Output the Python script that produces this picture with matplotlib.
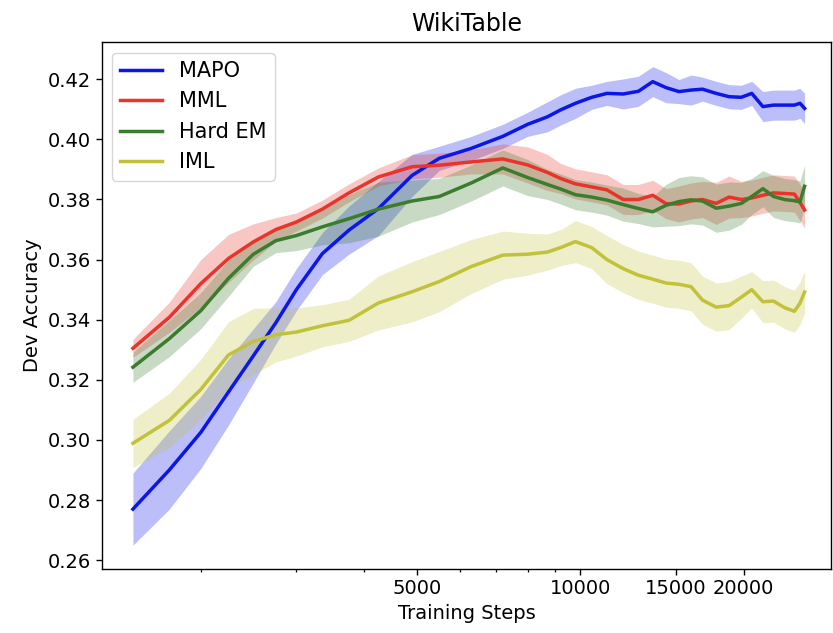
import numpy as np
import matplotlib
matplotlib.use('Agg')
import matplotlib.pyplot as plt
from matplotlib.ticker import NullFormatter

# training steps (shared x grid for all runs)
steps = [1500, 1750, 2000, 2250, 2500, 2750, 3000, 3350, 3750, 4250,
         4900, 5500, 6300, 7200, 8000, 8700, 9200, 9800, 10500, 11200,
         12000, 12800, 13600, 14400, 15200, 16000, 16800, 17800, 18800, 19800,
         20700, 21700, 22700, 23800, 24800, 25400, 25900]

# mean dev accuracy per method
mapo = [0.277, 0.290, 0.3025, 0.316, 0.328, 0.339, 0.350, 0.362, 0.3698, 0.377,
        0.388, 0.3937, 0.397, 0.401, 0.405, 0.4075, 0.4098, 0.412, 0.414, 0.4153,
        0.4151, 0.416, 0.4192, 0.4172, 0.4159, 0.4164, 0.4167, 0.4153, 0.4142, 0.414,
        0.4153, 0.4109, 0.4114, 0.4114, 0.4114, 0.412, 0.4103]
mml = [0.3305, 0.3408, 0.352, 0.3604, 0.3659, 0.370, 0.3725, 0.3768, 0.3822, 0.3875,
       0.3909, 0.3914, 0.3925, 0.3935, 0.3915, 0.389, 0.387, 0.3852, 0.3842, 0.3832,
       0.380, 0.380, 0.3814, 0.3786, 0.3785, 0.3795, 0.380, 0.3787, 0.3808, 0.380,
       0.3805, 0.3814, 0.3822, 0.382, 0.3818, 0.379, 0.3765]
hard_em = [0.3242, 0.3337, 0.343, 0.3538, 0.3618, 0.3663, 0.368, 0.3709, 0.3736, 0.3768,
           0.3795, 0.381, 0.3855, 0.3905, 0.3873, 0.385, 0.3835, 0.3816, 0.3808, 0.3798,
           0.3783, 0.377, 0.3759, 0.3781, 0.3793, 0.3799, 0.3795, 0.3771, 0.3778, 0.3787,
           0.381, 0.3836, 0.381, 0.380, 0.3796, 0.3792, 0.3844]
iml = [0.2989, 0.3065, 0.3168, 0.3283, 0.3328, 0.335, 0.3359, 0.338, 0.3398, 0.3456,
       0.3493, 0.3527, 0.3577, 0.3615, 0.3618, 0.3625, 0.364, 0.366, 0.364, 0.360,
       0.357, 0.3548, 0.3535, 0.3522, 0.3518, 0.351, 0.3465, 0.3442, 0.3447, 0.3475,
       0.350, 0.346, 0.3462, 0.344, 0.3428, 0.3455, 0.3492]

# half width of the shaded band
mapo_sd = [0.012, 0.013, 0.012, 0.011, 0.009, 0.007, 0.007, 0.007, 0.008, 0.009,
           0.007, 0.004, 0.004, 0.004, 0.004, 0.005, 0.005, 0.005, 0.004, 0.004,
           0.005, 0.005, 0.005, 0.005, 0.004, 0.005, 0.004, 0.004, 0.004, 0.004,
           0.004, 0.005, 0.005, 0.005, 0.005, 0.005, 0.005]
mml_sd = [0.003, 0.005, 0.008, 0.008, 0.006, 0.004, 0.003, 0.003, 0.003, 0.003,
          0.004, 0.004, 0.004, 0.005, 0.006, 0.006, 0.005, 0.005, 0.005, 0.005,
          0.005, 0.005, 0.005, 0.005, 0.006, 0.006, 0.006, 0.007, 0.007, 0.006,
          0.006, 0.006, 0.006, 0.006, 0.006, 0.006, 0.006]
hard_em_sd = [0.005, 0.006, 0.006, 0.006, 0.004, 0.004, 0.005, 0.006, 0.008, 0.009,
              0.007, 0.006, 0.006, 0.006, 0.006, 0.005, 0.005, 0.005, 0.005, 0.005,
              0.0055, 0.005, 0.005, 0.007, 0.008, 0.008, 0.008, 0.008, 0.008, 0.007,
              0.006, 0.006, 0.007, 0.007, 0.007, 0.007, 0.007]
iml_sd = [0.008, 0.009, 0.010, 0.011, 0.011, 0.009, 0.008, 0.007, 0.007, 0.009,
          0.010, 0.010, 0.009, 0.008, 0.007, 0.006, 0.006, 0.007, 0.007, 0.008,
          0.008, 0.008, 0.008, 0.008, 0.008, 0.008, 0.008, 0.008, 0.008, 0.007,
          0.006, 0.007, 0.007, 0.007, 0.007, 0.007, 0.007]

labels = ['MAPO', 'MML', 'Hard EM', 'IML']
colors = ['#0b16e8', '#e8342a', '#3a7d2c', '#c2c23a']
xticks = [5000, 10000, 15000, 20000]

if __name__ == '__main__':
    plt.rcParams['font.size'] = 14
    fig = plt.figure(figsize=(8.33, 6.33), dpi=100)
    ax = fig.add_axes([0.1221, 0.1012, 0.876, 0.832])

    x = np.array(steps)
    for mean, sd, lab, c in zip([mapo, mml, hard_em, iml],
                                [mapo_sd, mml_sd, hard_em_sd, iml_sd],
                                labels, colors):
        mean = np.array(mean)
        sd = np.array(sd)
        ax.fill_between(x, mean - sd, mean + sd, color=c, alpha=0.28, linewidth=0)
        ax.plot(x, mean, color=c, linewidth=2.5, label=lab)

    ax.set_xscale('log')
    ax.set_xlim(1314, 29020)
    ax.set_ylim(0.2571, 0.4323)
    ax.set_xticks(xticks)
    ax.set_xticklabels([str(t) for t in xticks])
    ax.xaxis.set_minor_formatter(NullFormatter())
    ax.set_yticks([0.26, 0.28, 0.30, 0.32, 0.34, 0.36, 0.38, 0.40, 0.42])
    ax.tick_params(which='major', length=4, width=1.0, labelsize=14)
    ax.tick_params(which='minor', length=2.2, width=0.9)
    for s in ax.spines.values():
        s.set_linewidth(1.0)

    ax.set_title('WikiTable', fontsize=17, pad=8)
    ax.set_xlabel('Training Steps', fontsize=14)
    ax.set_ylabel('Dev Accuracy', fontsize=14)
    ax.legend(loc='upper left', fontsize=15)

    fig.savefig('out.png', dpi=100)
